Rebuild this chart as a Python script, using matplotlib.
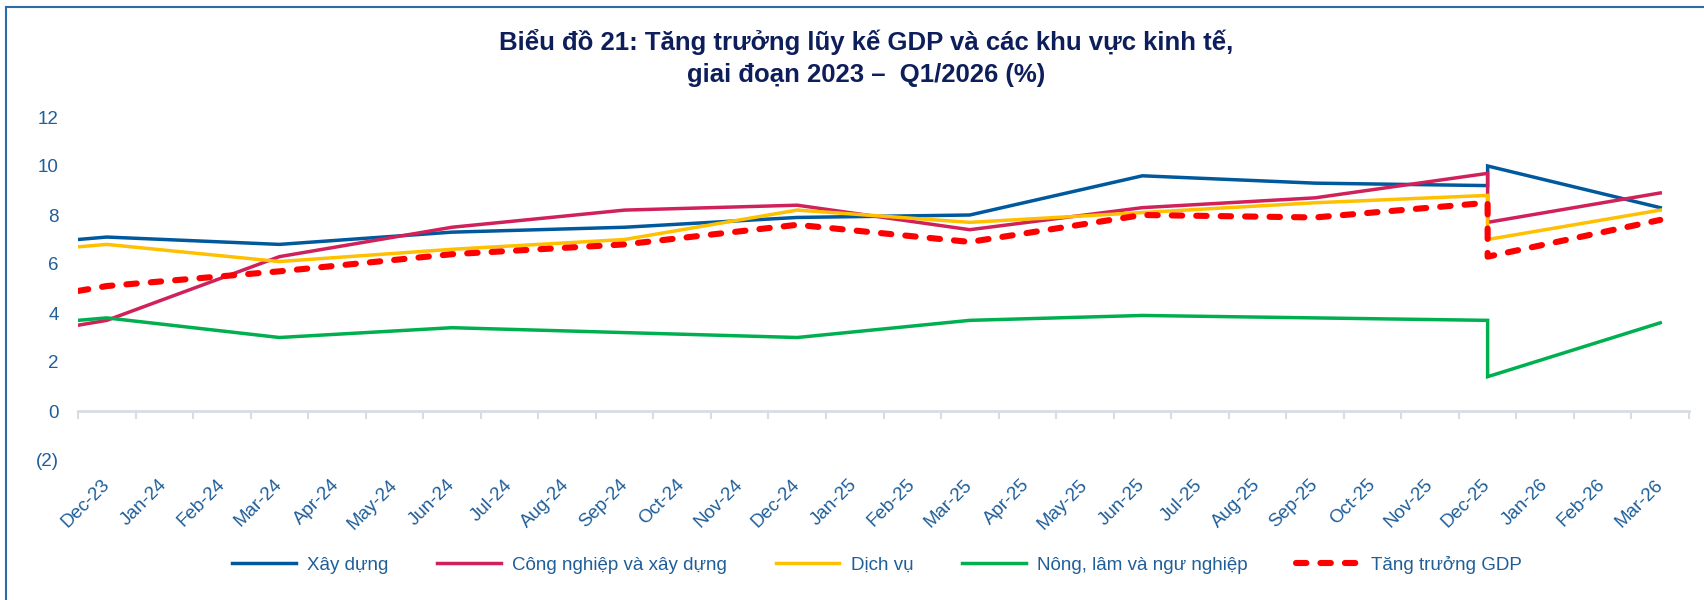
import matplotlib
matplotlib.use("Agg")
import matplotlib.pyplot as plt
from matplotlib.lines import Line2D
import numpy as np

# ---- data ----
months = ['Dec-23', 'Jan-24', 'Feb-24', 'Mar-24', 'Apr-24', 'May-24', 'Jun-24', 'Jul-24',
          'Aug-24', 'Sep-24', 'Oct-24', 'Nov-24', 'Dec-24', 'Jan-25', 'Feb-25', 'Mar-25',
          'Apr-25', 'May-25', 'Jun-25', 'Jul-25', 'Aug-25', 'Sep-25', 'Oct-25', 'Nov-25',
          'Dec-25', 'Jan-26', 'Feb-26', 'Mar-26']
# position of each observation on the month axis (index into months)
x_idx = [-0.5, 0, 3, 6, 9, 12, 15, 18, 21, 24, 24, 27]

xay_dung    = [7.0, 7.1, 6.8, 7.3, 7.5, 7.9, 8.0, 9.6, 9.3, 9.2, 10.0, 8.3]
cong_nghiep = [3.5, 3.7, 6.3, 7.5, 8.2, 8.4, 7.4, 8.3, 8.7, 9.7, 7.7, 8.9]
dich_vu     = [6.7, 6.8, 6.1, 6.6, 7.0, 8.2, 7.7, 8.1, 8.5, 8.8, 7.0, 8.2]
nong_lam    = [3.7, 3.8, 3.0, 3.4, 3.2, 3.0, 3.7, 3.9, 3.8, 3.7, 1.4, 3.6]
gdp         = [4.9, 5.1, 5.7, 6.4, 6.8, 7.6, 6.9, 8.0, 7.9, 8.5, 6.3, 7.8]

labels = ['Xây dựng', 'Công nghiệp và xây dựng', 'Dịch vụ',
          'Nông, lâm và ngư nghiệp', 'Tăng trưởng GDP']
y_ticks = [-2, 0, 2, 4, 6, 8, 10, 12]
title = 'Biểu đồ 21: Tăng trưởng lũy kế GDP và các khu vực kinh tế,\ngiai đoạn 2023 –  Q1/2026 (%)'

# ---- style ----
plt.rcParams['font.family'] = ['Liberation Sans', 'DejaVu Sans']
txt_col = '#1F5E99'
axis_col = '#D9DCE6'

fig = plt.figure(figsize=(17.04, 6.0), dpi=100)
ax = fig.add_axes([78/1704, 1-460/600, (1689-78)/1704, (460-117)/600])

ax.plot(x_idx, xay_dung, color='#00599D', lw=2.5, label=labels[0], solid_joinstyle='miter')
ax.plot(x_idx, cong_nghiep, color='#D0215A', lw=2.5, label=labels[1], solid_joinstyle='miter')
ax.plot(x_idx, dich_vu, color='#FFC000', lw=2.5, label=labels[2], solid_joinstyle='miter')
ax.plot(x_idx, nong_lam, color='#00B050', lw=2.5, label=labels[3], solid_joinstyle='miter')
ax.plot(x_idx, gdp, color='#FF0000', lw=4.4, label=labels[4],
        linestyle=(0, (1.7, 2.3)), dash_capstyle='round')

ax.set_xlim(-0.5, len(months) - 0.5)
ax.set_ylim(-2, 12)

# y axis
ax.set_yticks(y_ticks)
ax.set_yticklabels([f'({abs(v)})' if v < 0 else f'{v}' for v in y_ticks])
ax.tick_params(axis='y', length=0, pad=14, labelsize=13.5, labelcolor=txt_col)

# x labels at bottom of plot area
ax.set_xticks(np.arange(len(months)))
ax.set_xticklabels(months, rotation=45, ha='right', va='center', rotation_mode='anchor')
ax.tick_params(axis='x', length=0, pad=16, labelsize=13.5, labelcolor=txt_col)

for s in ax.spines.values():
    s.set_visible(False)

# category axis line at y = 0 with tick marks between categories
ylo, yhi = ax.get_ylim()
sec = ax.secondary_xaxis((0 - ylo) / (yhi - ylo))
sec.set_xticks(np.arange(-0.5, len(months) + 0.5, 1))
sec.set_xticklabels([])
sec.tick_params(axis='x', length=6, width=1.5, color=axis_col, direction='out')
sec.spines['bottom'].set_color(axis_col)
sec.spines['bottom'].set_linewidth(2)

# title
fig.text(866/1704, 1-58/600, title, ha='center', va='center', fontsize=18.5,
         fontweight='bold', color='#0E1E5B', linespacing=1.4)

# legend
leg = fig.legend(loc='center', bbox_to_anchor=(877/1704, 1-565/600), ncol=5,
                 frameon=False, handlelength=3.4, columnspacing=2.6,
                 handletextpad=0.6, fontsize=13.5)
for t in leg.get_texts():
    t.set_color(txt_col)

# figure border (left and top)
fig.add_artist(Line2D([6/1704, 6/1704], [0, 1-7/600], transform=fig.transFigure,
                      color='#2E6DA4', lw=1.5))
fig.add_artist(Line2D([6/1704, 1], [1-7/600, 1-7/600], transform=fig.transFigure,
                      color='#2E6DA4', lw=1.5))

fig.savefig('out.png', dpi=100)
